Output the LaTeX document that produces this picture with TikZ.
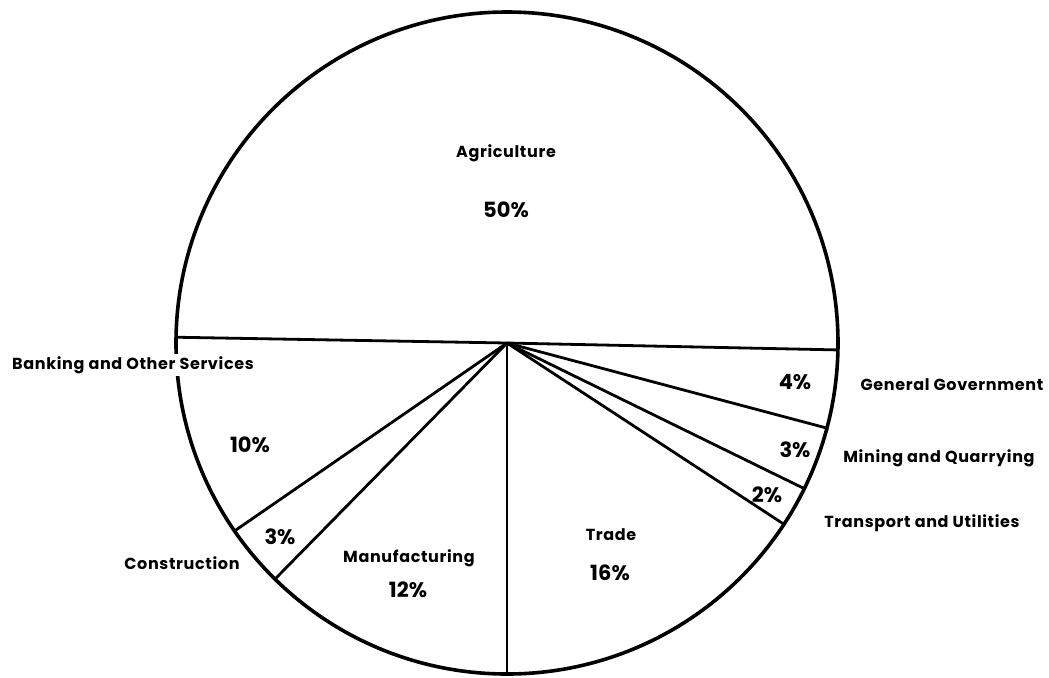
\documentclass[tikz,border=0pt]{standalone}
\usepackage{fontspec}
\setmainfont{Poppins}
\newfontfamily\spacedfont{Poppins}[LetterSpace=4]
\usepackage{tikz}

\begin{document}
\begin{tikzpicture}[x=0.5pt, y=0.5pt, line join=round]
		\tikzstyle{rim}=[line width=1.8pt]
		\tikzstyle{spoke}=[line width=1.4pt]
		\tikzstyle{sector}=[font=\spacedfont\fontsize{8}{9}\bfseries\selectfont, inner sep=1pt]
		\tikzstyle{share}=[font=\fontsize{10.5}{12}\bfseries\selectfont, inner sep=1pt]

		\useasboundingbox (-507,-334) rectangle (542,343);

    % Circle and centre
		\coordinate (c) at (0,0);
		\draw[rim] (c) circle (331);

    % Ends of the spokes on the rim
		\coordinate (agl) at (179:331);
		\coordinate (agr) at (-1.2:331);
		\coordinate (gov) at (-14.9:331);
		\coordinate (min) at (-26.1:331);
		\coordinate (tra) at (-33.2:331);
		\coordinate (trd) at (-90:331);
		\coordinate (man) at (-134.5:331);
		\coordinate (con) at (-145.4:331);

    % Spokes
		\draw[spoke] (c) -- (agl);
		\draw[spoke] (c) -- (agr);
		\draw[spoke] (c) -- (gov);
		\draw[spoke] (c) -- (min);
		\draw[spoke] (c) -- (tra);
		\draw[spoke] (c) -- (trd);
		\draw[spoke] (c) -- (man);
		\draw[spoke] (c) -- (con);

    % Labels inside
		\node[sector](agri) at (-1,190){Agriculture};
		\node[share](agrip) at (-1,133){50\%};
		\node[share](bankp) at (-257,-102){10\%};
		\node[share](conp) at (-227,-194){3\%};
		\node[sector](manu) at (-98,-215){Manufacturing};
		\node[share](manup) at (-99,-247){12\%};
		\node[sector](trade) at (104,-192){Trade};
		\node[share](tradep) at (103,-230){16\%};
		\node[share](trap) at (260,-152){2\%};
		\node[share](minp) at (288,-107){3\%};
		\node[share](govp) at (288,-39){4\%};

    % Labels outside
		\node[sector, fill=white](bank) at (-374,-22){Banking and Other Services};
		\node[sector](cons) at (-325,-220){Construction};
		\node[sector](govt) at (445,-42){General Government};
		\node[sector](mine) at (432,-115){Mining and Quarrying};
		\node[sector](trans) at (415,-180){Transport and Utilities};

  \end{tikzpicture}
\end{document}
